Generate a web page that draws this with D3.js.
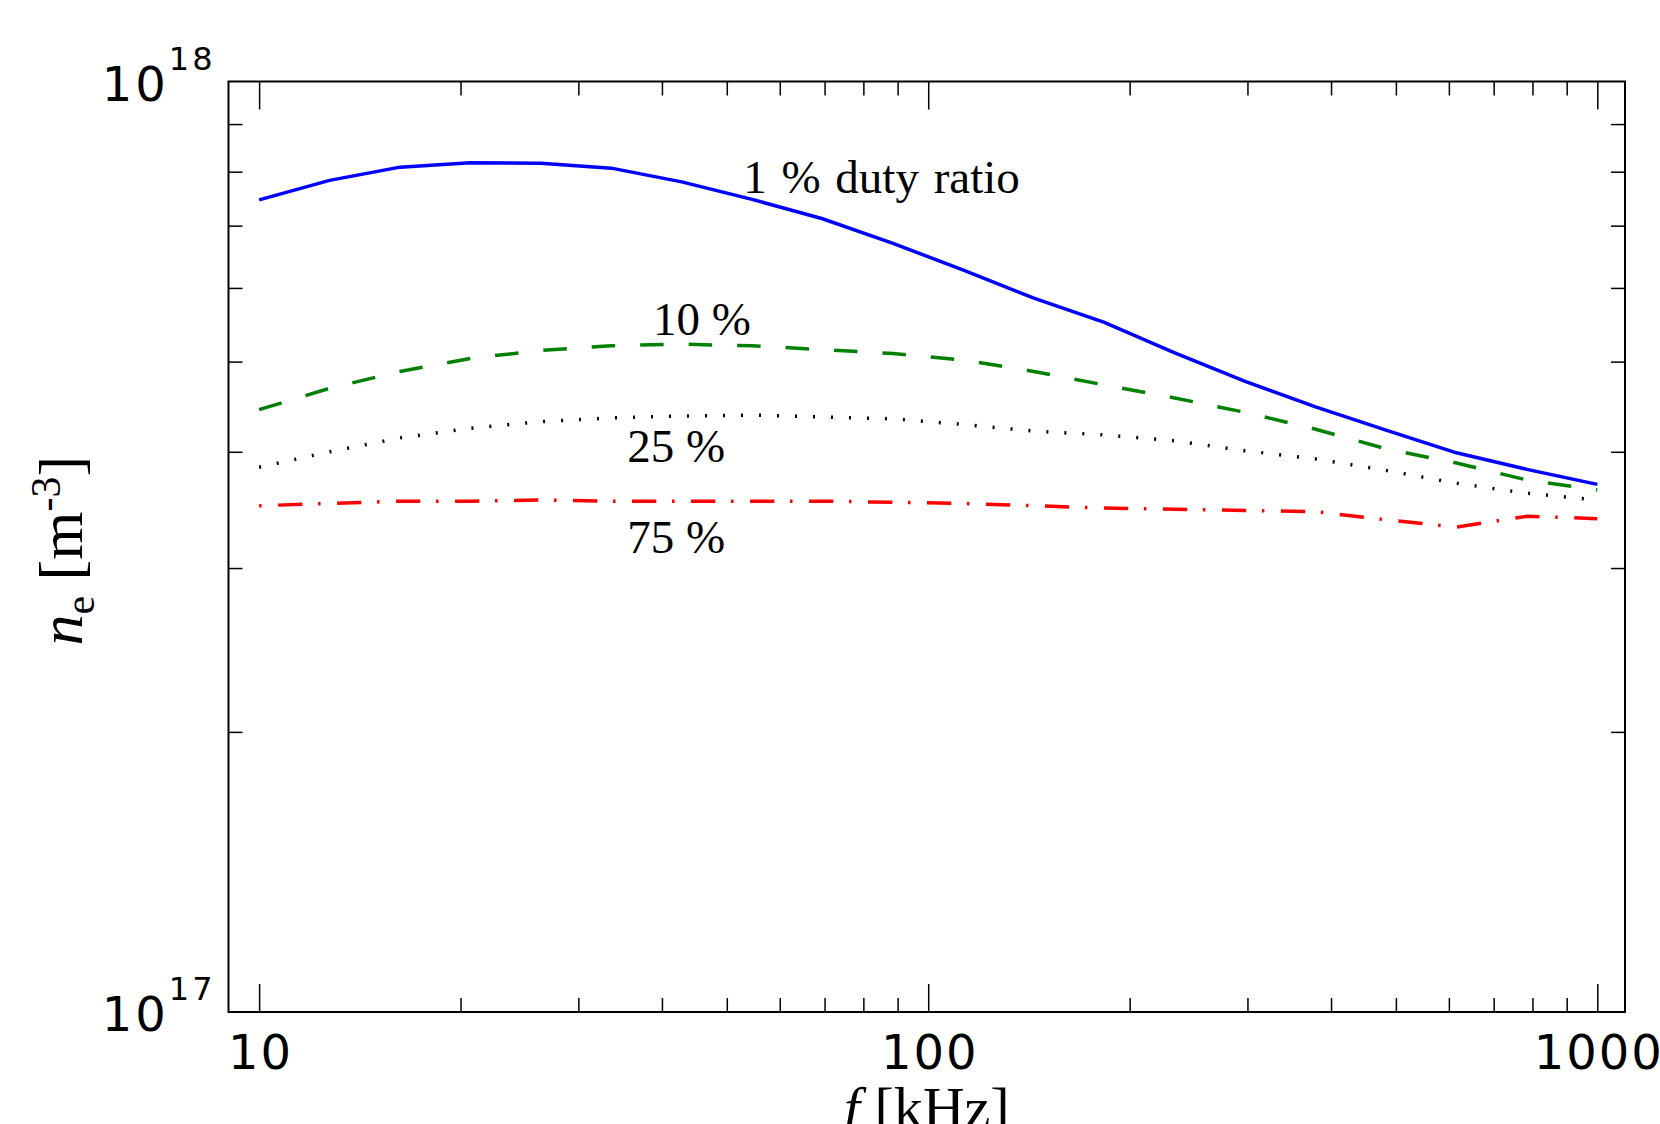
<!DOCTYPE html>
<html>
<head>
<meta charset="utf-8">
<script src="https://cdn.jsdelivr.net/npm/d3@7"></script>
<style>
  html, body { margin: 0; padding: 0; background: #fff; }
  svg { display: block; }
  .axis line { stroke: #000; stroke-width: 1.5; }
  .axis text { font-family: 'DejaVu Sans', sans-serif; font-size: 48px; fill: #000; letter-spacing: 2px; }
  .ylab { font-family: 'DejaVu Sans', sans-serif; fill: #000; letter-spacing: 3px; }
  .serif { font-family: 'Liberation Serif', 'Times New Roman', serif; fill: #000; }
</style>
</head>
<body>
<svg id="chart" width="1660" height="1124"></svg>
<script>
// frequency grid [kHz]
const freqs = [10, 12.743, 16.238, 20.691, 26.367, 33.598, 42.813, 54.556, 69.519, 88.587,
               112.88, 143.84, 183.30, 233.57, 297.64, 379.27, 483.29, 615.85, 784.76, 1000];

// electron density [m^-3] for each duty ratio
const duty1 = [7.46e17, 7.83e17, 8.09e17, 8.18e17, 8.17e17, 8.07e17, 7.80e17, 7.47e17, 7.12e17, 6.70e17,
               6.27e17, 5.85e17, 5.51e17, 5.11e17, 4.76e17, 4.47e17, 4.22e17, 3.99e17, 3.83e17, 3.69e17];
const duty10 = [4.44e17, 4.68e17, 4.88e17, 5.04e17, 5.14e17, 5.20e17, 5.22e17, 5.20e17, 5.15e17, 5.10e17,
                5.02e17, 4.88e17, 4.72e17, 4.57e17, 4.41e17, 4.23e17, 4.03e17, 3.89e17, 3.73e17, 3.64e17];
const duty25 = [3.85e17, 4.00e17, 4.14e17, 4.24e17, 4.31e17, 4.35e17, 4.37e17, 4.38e17, 4.36e17, 4.34e17,
                4.28e17, 4.21e17, 4.17e17, 4.11e17, 4.01e17, 3.93e17, 3.82e17, 3.70e17, 3.61e17, 3.55e17];
const duty75 = [3.50e17, 3.52e17, 3.54e17, 3.54e17, 3.55e17, 3.54e17, 3.54e17, 3.54e17, 3.54e17, 3.53e17,
                3.52e17, 3.50e17, 3.48e17, 3.47e17, 3.46e17, 3.45e17, 3.38e17, 3.32e17, 3.41e17, 3.39e17];

const xMajor = [10, 100, 1000];
const xMinor = [20, 30, 40, 50, 60, 70, 80, 90, 200, 300, 400, 500, 600, 700, 800, 900];
const yMajor = [1e17, 1e18];
const yMinor = [2e17, 3e17, 4e17, 5e17, 6e17, 7e17, 8e17, 9e17];

// curve labels, anchored in data coordinates
const notes = [
  { text: '1 % duty ratio', f: 52.9, n: 7.59e17 },
  { text: '10 %', f: 38.8, n: 5.34e17 },
  { text: '25 %', f: 35.5, n: 3.90e17 },
  { text: '75 %', f: 35.5, n: 3.11e17 }
];

const series = [
  { values: duty1, color: '#0000ff', dash: null },
  { values: duty10, color: '#008000', dash: '23.5 25' },
  { values: duty25, color: '#000000', dash: '2 16' },
  { values: duty75, color: '#ff0000', dash: '2.5 16.5 24.3 15.7' }
];

const svg = d3.select('#chart');
const margin = { top: 81.5, right: 35, bottom: 112, left: 228.5 };
const width = +svg.attr('width') - margin.left - margin.right;
const height = +svg.attr('height') - margin.top - margin.bottom;

const x = d3.scaleLog().domain([9, 1100]).range([0, width]);
const y = d3.scaleLog().domain([1e17, 1e18]).range([height, 0]);

const chart = svg.append('g')
    .attr('transform', `translate(${margin.left},${margin.top})`);

// ticks, all pointing inward
chart.append('g').attr('class', 'axis')
    .attr('transform', `translate(0,${height})`)
    .call(d3.axisBottom(x).tickValues(xMajor).tickSize(-28).tickPadding(23).tickFormat(d3.format('d')));
chart.append('g').attr('class', 'axis')
    .attr('transform', `translate(0,${height})`)
    .call(d3.axisBottom(x).tickValues(xMinor).tickSize(-14).tickFormat(''));
chart.append('g').attr('class', 'axis')
    .call(d3.axisTop(x).tickValues(xMajor).tickSize(-28).tickFormat(''));
chart.append('g').attr('class', 'axis')
    .call(d3.axisTop(x).tickValues(xMinor).tickSize(-14).tickFormat(''));
chart.append('g').attr('class', 'axis')
    .call(d3.axisLeft(y).tickValues(yMinor).tickSize(-14).tickFormat(''));
chart.append('g').attr('class', 'axis')
    .attr('transform', `translate(${width},0)`)
    .call(d3.axisRight(y).tickValues(yMinor).tickSize(-14).tickFormat(''));
chart.selectAll('.axis path.domain').remove();
chart.selectAll('.axis text').attr('dx', 1);

// y tick labels as 10^n
const ylab = chart.selectAll('.ylab')
    .data(yMajor)
    .enter().append('text')
    .attr('class', 'ylab')
    .attr('x', -13)
    .attr('y', d => y(d) + 19)
    .attr('text-anchor', 'end');
ylab.append('tspan').attr('font-size', 48).text('10');
ylab.append('tspan').attr('font-size', 32).attr('dy', -31).text(d => Math.round(Math.log10(d)));

// curves
const line = d3.line()
    .x(d => x(d[0]))
    .y(d => y(d[1]));

chart.selectAll('.curve')
    .data(series)
    .enter().append('path')
    .attr('class', 'curve')
    .attr('d', s => line(freqs.map((f, i) => [f, s.values[i]])))
    .attr('fill', 'none')
    .attr('stroke', s => s.color)
    .attr('stroke-width', 3.5)
    .attr('stroke-dasharray', s => s.dash);

// frame
chart.append('rect')
    .attr('width', width)
    .attr('height', height)
    .attr('fill', 'none')
    .attr('stroke', '#000')
    .attr('stroke-width', 2);

// curve labels
chart.selectAll('.note')
    .data(notes)
    .enter().append('text')
    .attr('class', 'serif note')
    .attr('font-size', 47)
    .attr('word-spacing', d => d.text.length > 5 ? 3 : 0)
    .attr('x', d => x(d.f))
    .attr('y', d => y(d.n))
    .text(d => d.text);

// axis titles
const yt = svg.append('text')
    .attr('class', 'serif')
    .attr('font-size', 62)
    .attr('text-anchor', 'middle')
    .attr('transform', `translate(82,${margin.top + height / 2 + 4}) rotate(-90)`);
yt.append('tspan').attr('font-style', 'italic').text('n');
yt.append('tspan').attr('font-size', 42).attr('dy', 12).text('e');
yt.append('tspan').attr('dy', -12).text(' [m');
yt.append('tspan').attr('font-size', 42).attr('dy', -22).text('-3');
yt.append('tspan').attr('dy', 22).text(']');

const xt = svg.append('text')
    .attr('class', 'serif')
    .attr('font-size', 58)
    .attr('text-anchor', 'middle')
    .attr('x', margin.left + width / 2)
    .attr('y', 1127);
xt.append('tspan').attr('font-style', 'italic').text('f');
xt.append('tspan').text(' [kHz]');
</script>
</body>
</html>
